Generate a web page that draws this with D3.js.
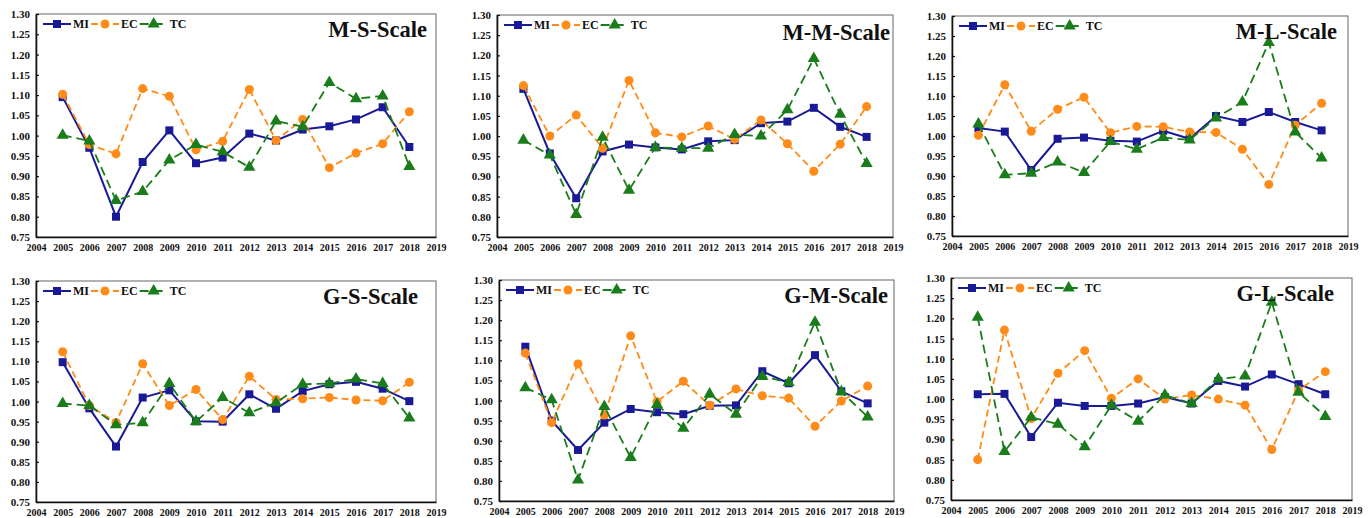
<!DOCTYPE html>
<html>
<head>
<meta charset="utf-8">
<script src="https://cdn.jsdelivr.net/npm/d3@7"></script>
<style>
  body { margin: 0; background: #fff; }
  svg text { font-family: "Liberation Serif", "Times New Roman", serif; font-weight: bold; fill: #111; }
</style>
</head>
<body>
<svg id="chart" width="1369" height="518"></svg>
<script>
// ---- data ----
const years = [2005, 2006, 2007, 2008, 2009, 2010, 2011, 2012, 2013, 2014, 2015, 2016, 2017, 2018];
const xTicks = [2004, 2005, 2006, 2007, 2008, 2009, 2010, 2011, 2012, 2013, 2014, 2015, 2016, 2017, 2018, 2019];
const yTicks = [0.75, 0.80, 0.85, 0.90, 0.95, 1.00, 1.05, 1.10, 1.15, 1.20, 1.25, 1.30];
const seriesNames = ['MI', 'EC', 'TC'];

const msMI = [1.095, 0.970, 0.800, 0.935, 1.013, 0.932, 0.946, 1.005, 0.988, 1.015, 1.023, 1.040, 1.070, 0.972];
const msEC = [1.102, 0.978, 0.955, 1.116, 1.097, 0.965, 0.986, 1.114, 0.988, 1.040, 0.921, 0.957, 0.980, 1.059];
const msTC = [1.001, 0.987, 0.840, 0.862, 0.940, 0.978, 0.960, 0.922, 1.036, 1.022, 1.131, 1.091, 1.098, 0.924];

const mmMI = [1.117, 0.957, 0.846, 0.962, 0.979, 0.972, 0.967, 0.987, 0.990, 1.032, 1.036, 1.070, 1.023, 0.998];
const mmEC = [1.125, 1.000, 1.052, 0.970, 1.138, 1.008, 0.998, 1.025, 0.992, 1.040, 0.981, 0.913, 0.980, 1.073];
const mmTC = [0.990, 0.953, 0.806, 0.997, 0.866, 0.972, 0.970, 0.970, 1.004, 1.000, 1.065, 1.192, 1.054, 0.932];

const mlMI = [1.020, 1.011, 0.915, 0.993, 0.996, 0.988, 0.986, 1.013, 0.993, 1.050, 1.035, 1.060, 1.035, 1.014];
const mlEC = [1.002, 1.128, 1.012, 1.067, 1.097, 1.008, 1.024, 1.023, 1.010, 1.009, 0.967, 0.879, 1.027, 1.082];
const mlTC = [1.030, 0.903, 0.907, 0.935, 0.909, 0.986, 0.967, 0.996, 0.990, 1.045, 1.085, 1.234, 1.010, 0.945];

const gsMI = [1.098, 0.983, 0.888, 1.010, 1.028, 0.951, 0.950, 1.018, 0.982, 1.026, 1.043, 1.049, 1.032, 1.001];
const gsEC = [1.124, 0.990, 0.948, 1.094, 0.990, 1.030, 0.955, 1.063, 1.005, 1.007, 1.010, 1.004, 1.002, 1.048];
const gsTC = [0.995, 0.990, 0.942, 0.947, 1.045, 0.950, 1.010, 0.972, 0.997, 1.043, 1.045, 1.056, 1.045, 0.959];

const gmMI = [1.134, 0.950, 0.877, 0.945, 0.979, 0.971, 0.966, 0.987, 0.988, 1.073, 1.043, 1.113, 1.023, 0.993];
const gmEC = [1.118, 0.945, 1.091, 0.964, 1.161, 0.997, 1.048, 0.988, 1.029, 1.012, 1.006, 0.936, 0.999, 1.036];
const gmTC = [1.032, 1.002, 0.802, 0.985, 0.858, 0.990, 0.931, 1.016, 0.966, 1.060, 1.045, 1.195, 1.022, 0.959];

const glMI = [1.012, 1.013, 0.906, 0.991, 0.983, 0.983, 0.989, 1.005, 0.989, 1.045, 1.031, 1.061, 1.037, 1.012];
const glEC = [0.850, 1.171, 0.952, 1.064, 1.120, 1.002, 1.050, 1.000, 1.010, 1.000, 0.985, 0.875, 1.022, 1.068];
const glTC = [1.203, 0.870, 0.955, 0.938, 0.882, 0.985, 0.945, 1.010, 0.989, 1.050, 1.057, 1.240, 1.017, 0.957];

const panels = [
  { title: 'M-S-Scale', series: [msMI, msEC, msTC] },
  { title: 'M-M-Scale', series: [mmMI, mmEC, mmTC] },
  { title: 'M-L-Scale', series: [mlMI, mlEC, mlTC] },
  { title: 'G-S-Scale', series: [gsMI, gsEC, gsTC] },
  { title: 'G-M-Scale', series: [gmMI, gmEC, gmTC] },
  { title: 'G-L-Scale', series: [glMI, glEC, glTC] }
];

// ---- layout: plot frame of each panel (left, top, right, bottom) ----
const frames = [
  [36, 14, 436, 237], [497, 15, 893, 237], [952, 16, 1348, 236],
  [36, 281, 436, 502], [499, 280, 894, 501], [951, 278, 1352, 500]
];
// title inset from frame's right edge and baseline below frame top
const titleInset = [[9, 23], [3, 25], [11, 23], [18, 23], [6, 23], [18, 23]];

const styles = {
  MI: { color: '#1a1a96', dash: null,  width: 2,   marker: d3.symbolSquare,   size: 64 },
  EC: { color: '#ff8c1a', dash: '7,4', width: 1.8, marker: d3.symbolCircle,   size: 64 },
  TC: { color: '#1b7c1b', dash: '9,5', width: 1.8, marker: d3.symbolTriangle, size: 64 }
};

const svg = d3.select('#chart');

panels.forEach((p, i) => {
  const [l, t, r, b] = frames[i];
  const w = r - l, h = b - t;
  const g = svg.append('g').attr('transform', `translate(${l},${t})`);

  const x = d3.scaleLinear().domain([2004, 2019]).range([0, w]);
  const y = d3.scaleLinear().domain([0.75, 1.30]).range([h, 0]);

  // frame
  g.append('rect').attr('width', w).attr('height', h)
    .attr('fill', 'none').attr('stroke', '#666').attr('stroke-width', 1);

  // axes
  const yAxis = g.append('g')
    .call(d3.axisLeft(y).tickValues(yTicks).tickFormat(d3.format('.2f')).tickSizeInner(-3).tickSizeOuter(0).tickPadding(6));
  const xAxis = g.append('g').attr('transform', `translate(0,${h})`)
    .call(d3.axisBottom(x).tickValues(xTicks).tickFormat(d3.format('d')).tickSizeInner(0).tickSizeOuter(0).tickPadding(7));
  [yAxis, xAxis].forEach(a => {
    a.select('.domain').attr('stroke', '#111').attr('stroke-width', 1.6);
    a.selectAll('.tick line').attr('stroke', '#111').attr('stroke-width', 1.2);
    a.selectAll('text').attr('fill', '#111');
  });
  yAxis.selectAll('text').style('font-size', '11px');
  xAxis.selectAll('text').style('font-size', '10px');

  // series
  seriesNames.forEach((name, k) => {
    const s = styles[name];
    const pts = years.map((yr, j) => [yr, p.series[k][j]]);
    g.append('path').datum(pts)
      .attr('fill', 'none').attr('stroke', s.color).attr('stroke-width', s.width)
      .attr('stroke-dasharray', s.dash)
      .attr('d', d3.line().x(d => x(d[0])).y(d => y(d[1])));
    g.selectAll(null).data(pts).join('path')
      .attr('transform', d => `translate(${x(d[0])},${y(d[1])})`)
      .attr('d', d3.symbol(s.marker, s.size))
      .attr('fill', s.color);
  });

  // legend
  const lg = g.append('g').attr('transform', 'translate(7,10)');
  let cx = 0;
  seriesNames.forEach(name => {
    const s = styles[name];
    lg.append('line').attr('x1', cx).attr('x2', cx + 28).attr('y1', 0).attr('y2', 0)
      .attr('stroke', s.color).attr('stroke-width', s.width).attr('stroke-dasharray', s.dash);
    lg.append('path').attr('transform', `translate(${cx + 14},0)`)
      .attr('d', d3.symbol(s.marker, s.size)).attr('fill', s.color);
    const txt = lg.append('text').attr('x', cx + 30).attr('y', 0).attr('dy', '0.35em')
      .style('font-size', '12px').text(name);
    cx += 30 + txt.node().getComputedTextLength() + 2;
  });

  // panel title
  const [tdx, tdy] = titleInset[i];
  g.append('text').attr('x', w - tdx).attr('y', tdy).attr('text-anchor', 'end')
    .style('font-size', '22.5px').text(p.title);
});
</script>
</body>
</html>
